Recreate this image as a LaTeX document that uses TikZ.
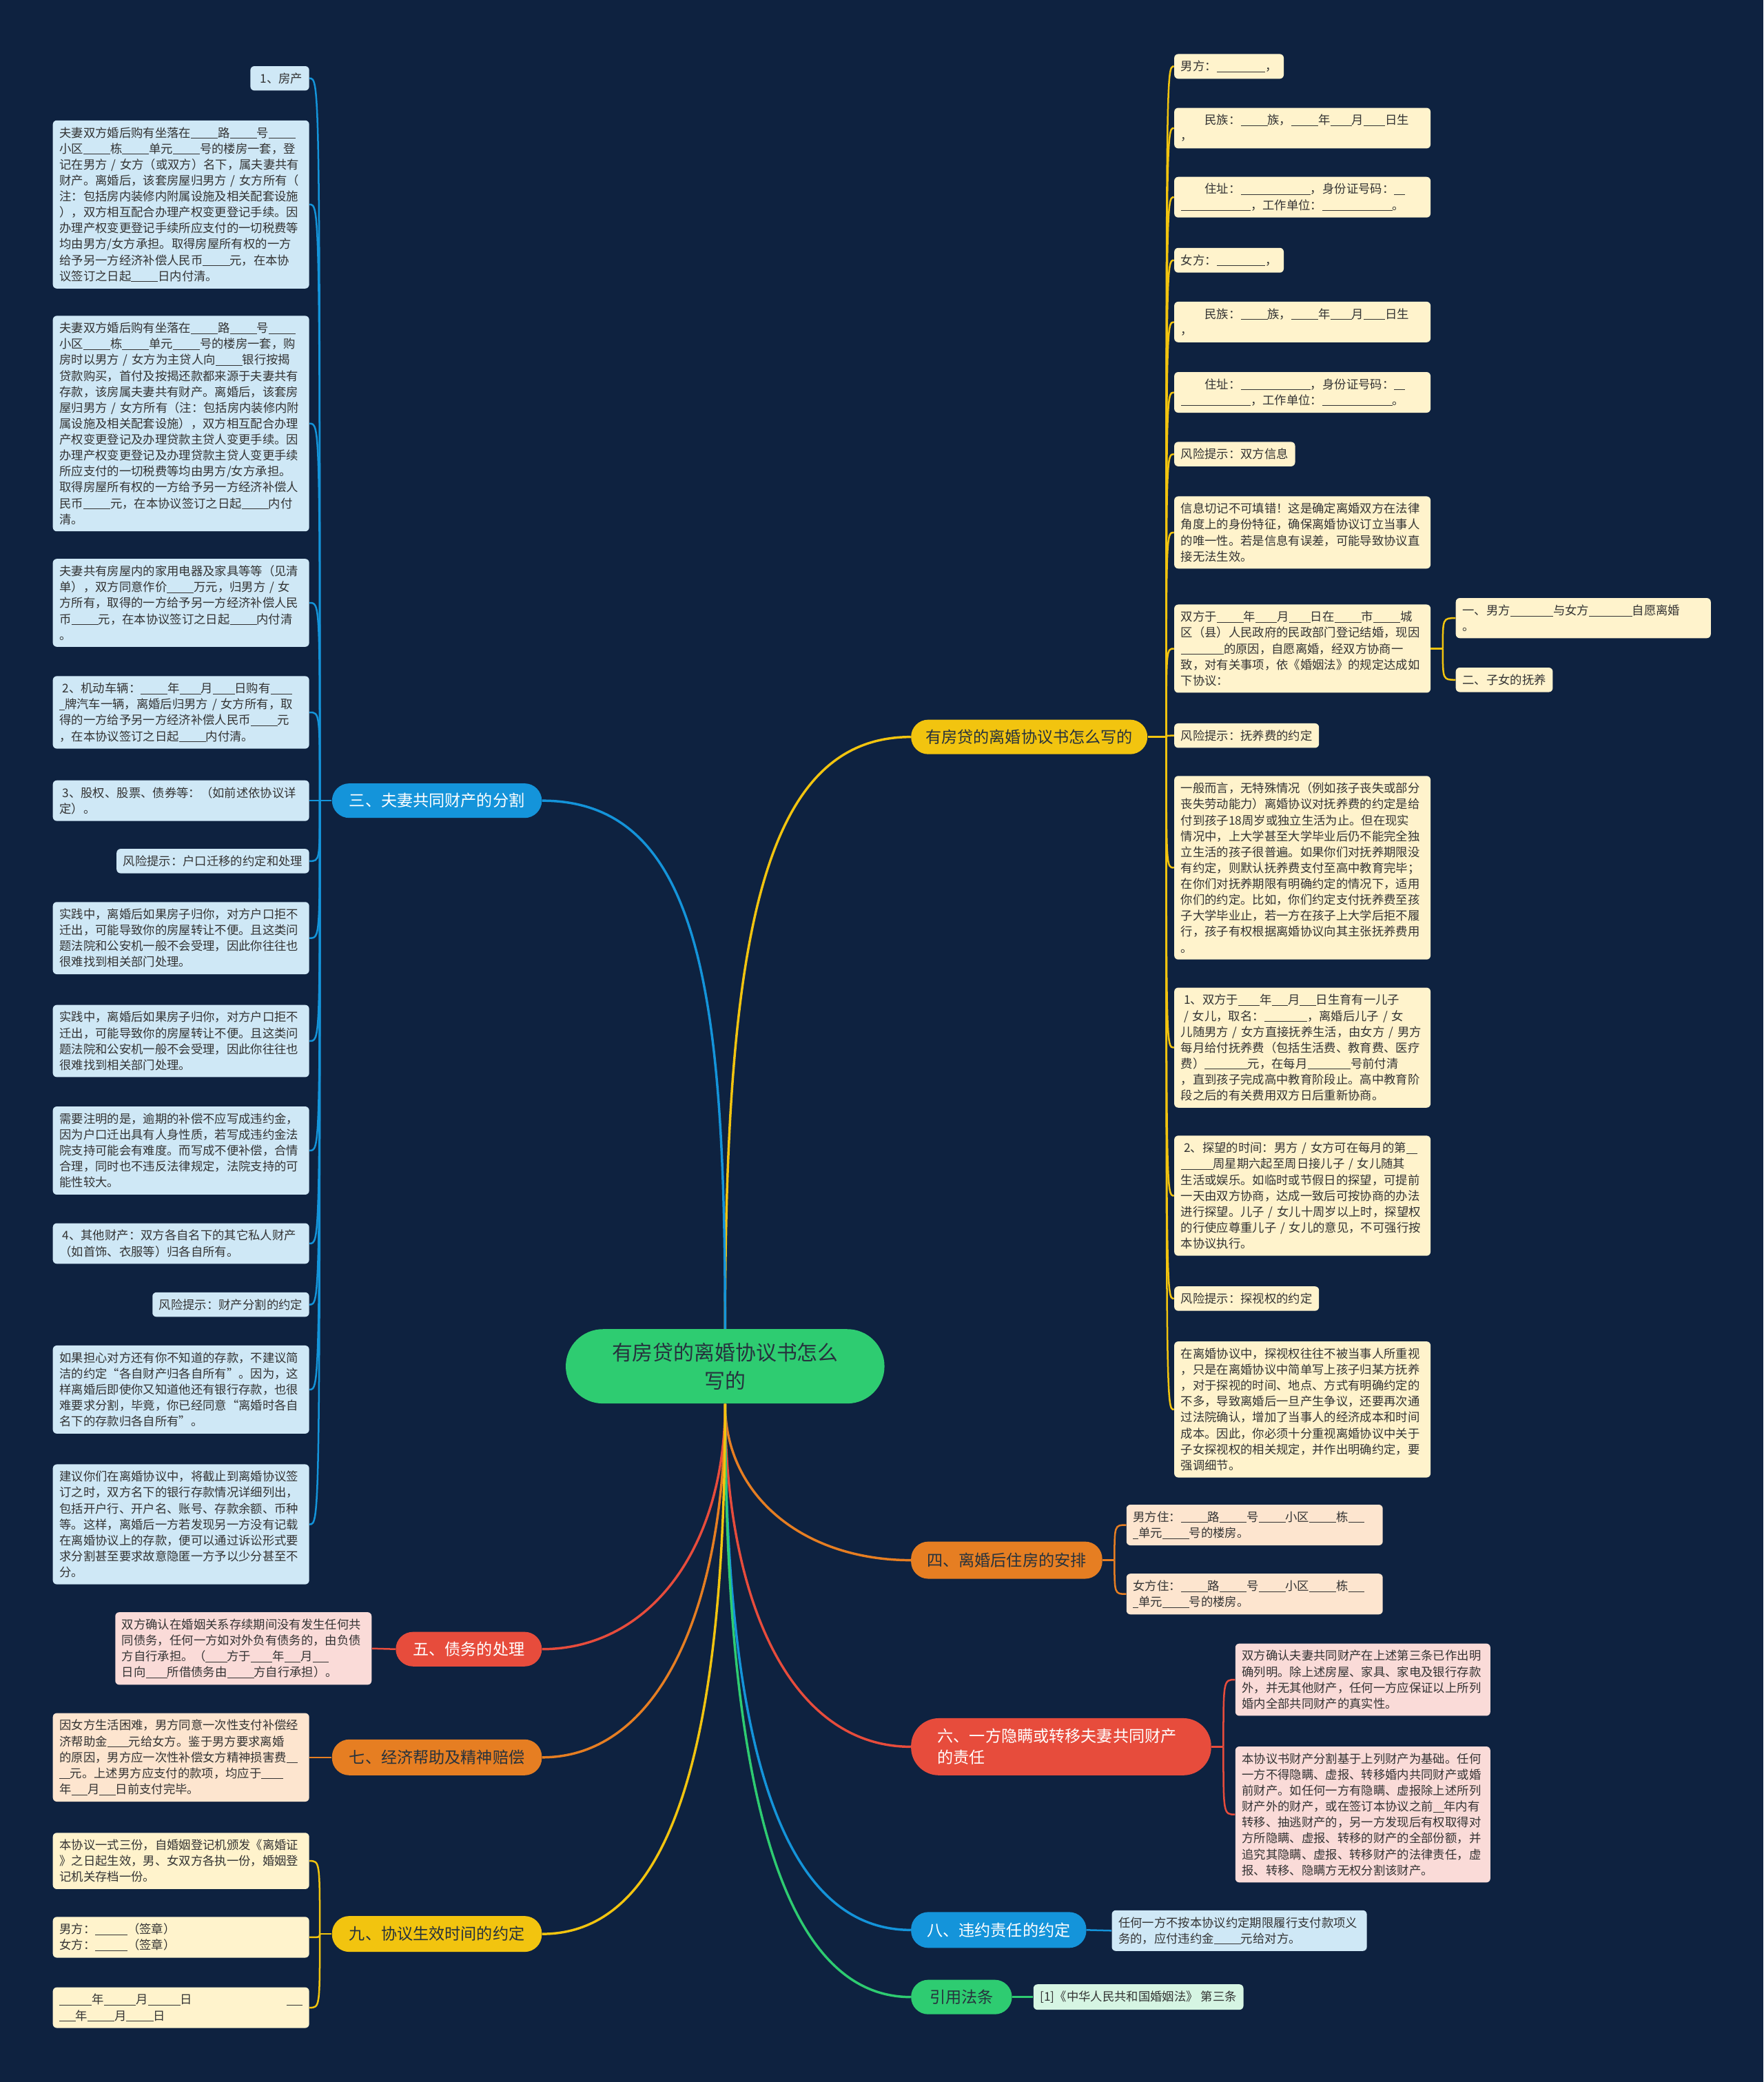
\documentclass[tikz,border=0pt]{standalone}
\usepackage{fontspec}
\newfontfamily\cjk{Noto Sans CJK SC}
\usetikzlibrary{positioning}

\definecolor{navy}{HTML}{0E2240}
\definecolor{cyel}{HTML}{F2C40F}
\definecolor{cblu}{HTML}{1494DA}
\definecolor{cora}{HTML}{E67E22}
\definecolor{cred}{HTML}{E74C3C}
\definecolor{cgrn}{HTML}{2ECC71}
\definecolor{fyel}{HTML}{FFF3CC}
\definecolor{fblu}{HTML}{CFE8F6}
\definecolor{fora}{HTML}{FDE5CF}
\definecolor{fred}{HTML}{FADBD8}
\definecolor{fgrn}{HTML}{D6F5E3}
\definecolor{ink}{HTML}{333333}
\definecolor{inkd}{HTML}{26323D}

% blank to fill in
\newcommand{\fillin}[1]{\rule[-1pt]{#1\dimexpr0.45em\relax}{0.45pt}}

\tikzset{
  leaf/.style={rounded corners=3pt, inner xsep=5pt, inner ysep=5pt, align=left, text=ink,
    font=\cjk\fontsize{9}{12}\selectfont},
  leafw/.style={leaf, text width=183pt},
  topic/.style={rounded corners=13pt, minimum height=26pt, inner xsep=10pt,
    font=\cjk\fontsize{12}{16}\selectfont},
  stem/.style={line width=1.8pt},
  lnk/.style={line width=1.3pt},
}

\begin{document}
\begin{tikzpicture}[x=1pt, y=-1pt]
  % background
  \fill[navy] (0,0) rectangle (1328,1568);

  % root
  \node[fill=cgrn, text=inkd, rounded corners=28pt, minimum width=240pt, minimum height=56pt,
    align=center, font=\cjk\fontsize{15.5}{21}\selectfont] (root) at (546,1029)
    {有房贷的离婚协议书怎么\\写的};

  % main branches
  \node[topic, fill=cyel, text=inkd, minimum width=178pt] (b1) at (775,555) {有房贷的离婚协议书怎么写的};
  \node[topic, fill=cblu, text=white, minimum width=158pt] (b3) at (329,603) {三、夫妻共同财产的分割};
  \node[topic, fill=cora, text=inkd, minimum width=144pt, minimum height=28pt] (b4) at (758,1175) {四、离婚后住房的安排};
  \node[topic, fill=cred, text=white, minimum width=110pt] (b5) at (353,1242) {五、债务的处理};
  \node[topic, fill=cred, text=white, rounded corners=21pt, minimum height=43pt, text width=186pt,
    inner xsep=20pt, align=left] (b6) at (799,1315.5) {六、一方隐瞒或转移夫妻共同财产\\的责任};
  \node[topic, fill=cora, text=inkd, minimum width=158pt, minimum height=27pt] (b7) at (329,1323.5) {七、经济帮助及精神赔偿};
  \node[topic, fill=cblu, text=white, minimum width=132pt, minimum height=27pt] (b8) at (752,1453.5) {八、违约责任的约定};
  \node[topic, fill=cyel, text=inkd, minimum width=158pt, minimum height=27pt] (b9) at (329,1456.5) {九、协议生效时间的约定};
  \node[topic, fill=cgrn, text=inkd, minimum width=76pt] (b10) at (724,1504) {引用法条};

  % root -> branches
  \draw[stem, cyel] (root.north) .. controls +(0,-300) and +(-110,0) .. (b1.west);
  \draw[stem, cblu] (root.north) .. controls +(0,-250) and +(120,0) .. (b3.east);
  \draw[stem, cora] (root.south) .. controls +(0,70) and +(-80,0) .. (b4.west);
  \draw[stem, cred] (root.south) .. controls +(0,150) and +(-90,0) .. (b6.west);
  \draw[stem, cblu] (root.south) .. controls +(0,250) and +(-100,0) .. (b8.west);
  \draw[stem, cgrn] (root.south) .. controls +(0,280) and +(-100,0) .. (b10.west);
  \draw[stem, cred] (root.south) .. controls +(0,110) and +(80,0) .. (b5.east);
  \draw[stem, cora] (root.south) .. controls +(0,150) and +(90,0) .. (b7.east);
  \draw[stem, cyel] (root.south) .. controls +(0,250) and +(100,0) .. (b9.east);

  % right: agreement text
  \node[leaf, fill=fyel, anchor=west] (r1) at (884,50) {男方：\fillin{9}，};
  \node[leafw, fill=fyel, anchor=west] (r2) at (884,96.5)
    {\hspace*{2em}民族：\fillin{5}族，\fillin{5}年\fillin{4}月\fillin{4}日生\\，};
  \node[leafw, fill=fyel, anchor=west] (r3) at (884,148.5)
    {\hspace*{2em}住址：\fillin{13}，身份证号码：\fillin{2}\\\fillin{13}，工作单位：\fillin{13}。};
  \node[leaf, fill=fyel, anchor=west] (r4) at (884,196) {女方：\fillin{9}，};
  \node[leafw, fill=fyel, anchor=west] (r5) at (884,242.5)
    {\hspace*{2em}民族：\fillin{5}族，\fillin{5}年\fillin{4}月\fillin{4}日生\\，};
  \node[leafw, fill=fyel, anchor=west] (r6) at (884,295.5)
    {\hspace*{2em}住址：\fillin{13}，身份证号码：\fillin{2}\\\fillin{13}，工作单位：\fillin{13}。};
  \node[leaf, fill=fyel, anchor=west] (r7) at (884,342) {风险提示：双方信息};
  \node[leafw, fill=fyel, anchor=west] (r8) at (884,401)
    {信息切记不可填错！这是确定离婚双方在法律\\角度上的身份特征，确保离婚协议订立当事人\\的唯一性。若是信息有误差，可能导致协议直\\接无法生效。};
  \node[leafw, fill=fyel, anchor=west] (r9) at (884,488.5)
    {双方于\fillin{5}年\fillin{4}月\fillin{4}日在\fillin{5}市\fillin{5}城\\区（县）人民政府的民政部门登记结婚，现因\\\fillin{8}的原因，自愿离婚，经双方协商一\\致，对有关事项，依《婚姻法》的规定达成如\\下协议：};
  \node[leafw, fill=fyel, anchor=west, text width=182pt] (r9a) at (1096,465.5)
    {一、男方\fillin{8}与女方\fillin{8}自愿离婚\\。};
  \node[leaf, fill=fyel, anchor=west] (r9b) at (1096,512) {二、子女的抚养};
  \node[leaf, fill=fyel, anchor=west] (r10) at (884,554) {风险提示：抚养费的约定};
  \node[leafw, fill=fyel, anchor=west] (r11) at (884,653.5)
    {一般而言，无特殊情况（例如孩子丧失或部分\\丧失劳动能力）离婚协议对抚养费的约定是给\\付到孩子18周岁或独立生活为止。但在现实\\情况中，上大学甚至大学毕业后仍不能完全独\\立生活的孩子很普遍。如果你们对抚养期限没\\有约定，则默认抚养费支付至高中教育完毕；\\在你们对抚养期限有明确约定的情况下，适用\\你们的约定。比如，你们约定支付抚养费至孩\\子大学毕业止，若一方在孩子上大学后拒不履\\行，孩子有权根据离婚协议向其主张抚养费用\\。};
  \node[leafw, fill=fyel, anchor=west] (r12) at (884,789)
    {\hspace{0.25em}1、双方于\fillin{4}年\fillin{3}月\fillin{3}日生育有一儿子\\\hspace{0.25em}/~女儿，取名：\fillin{8}，离婚后儿子~/~女\\儿随男方~/~女方直接抚养生活，由女方~/~男方\\每月给付抚养费（包括生活费、教育费、医疗\\费）\fillin{8}元，在每月\fillin{8}号前付清\\，直到孩子完成高中教育阶段止。高中教育阶\\段之后的有关费用双方日后重新协商。};
  \node[leafw, fill=fyel, anchor=west] (r13) at (884,900.5)
    {\hspace{0.25em}2、探望的时间：男方~/~女方可在每月的第\fillin{2}\\\fillin{6}周星期六起至周日接儿子~/~女儿随其\\生活或娱乐。如临时或节假日的探望，可提前\\一天由双方协商，达成一致后可按协商的办法\\进行探望。儿子~/~女儿十周岁以上时，探望权\\的行使应尊重儿子~/~女儿的意见，不可强行按\\本协议执行。};
  \node[leaf, fill=fyel, anchor=west] (r14) at (884,978) {风险提示：探视权的约定};
  \node[leafw, fill=fyel, anchor=west] (r15) at (884,1061.5)
    {在离婚协议中，探视权往往不被当事人所重视\\，只是在离婚协议中简单写上孩子归某方抚养\\，对于探视的时间、地点、方式有明确约定的\\不多，导致离婚后一旦产生争议，还要再次通\\过法院确认，增加了当事人的经济成本和时间\\成本。因此，你必须十分重视离婚协议中关于\\子女探视权的相关规定，并作出明确约定，要\\强调细节。};

  \coordinate[right=14pt of b1.east] (j1);
  \draw[lnk, cyel] (b1.east) -- (j1);
  \foreach \n in {r1,r2,r3,r4,r5,r6,r7,r8,r9,r10,r11,r12,r13,r14,r15}
    \draw[lnk, cyel] (j1) .. controls (j1 |- \n.west) .. (\n.west);
  \coordinate[right=9pt of r9.east] (j9r);
  \draw[lnk, cyel] (r9.east) -- (j9r);
  \foreach \n in {r9a,r9b}
    \draw[lnk, cyel] (j9r) .. controls (j9r |- \n.west) .. (\n.west);

  % left: property
  \node[leaf, fill=fblu, anchor=east] (l1) at (233,59) {\hspace{0.25em}1、房产};
  \node[leafw, fill=fblu, anchor=east] (l2) at (233,154)
    {夫妻双方婚后购有坐落在\fillin{5}路\fillin{5}号\fillin{5}\\小区\fillin{5}栋\fillin{5}单元\fillin{5}号的楼房一套，登\\记在男方~/~女方（或双方）名下，属夫妻共有\\财产。离婚后，该套房屋归男方~/~女方所有（\\注：包括房内装修内附属设施及相关配套设施\\），双方相互配合办理产权变更登记手续。因\\办理产权变更登记手续所应支付的一切税费等\\均由男方/女方承担。取得房屋所有权的一方\\给予另一方经济补偿人民币\fillin{5}元，在本协\\议签订之日起\fillin{5}日内付清。};
  \node[leafw, fill=fblu, anchor=east] (l3) at (233,319)
    {夫妻双方婚后购有坐落在\fillin{5}路\fillin{5}号\fillin{5}\\小区\fillin{5}栋\fillin{5}单元\fillin{5}号的楼房一套，购\\房时以男方~/~女方为主贷人向\fillin{5}银行按揭\\贷款购买，首付及按揭还款都来源于夫妻共有\\存款，该房属夫妻共有财产。离婚后，该套房\\屋归男方~/~女方所有（注：包括房内装修内附\\属设施及相关配套设施），双方相互配合办理\\产权变更登记及办理贷款主贷人变更手续。因\\办理产权变更登记及办理贷款主贷人变更手续\\所应支付的一切税费等均由男方/女方承担。\\取得房屋所有权的一方给予另一方经济补偿人\\民币\fillin{5}元，在本协议签订之日起\fillin{5}内付\\清。};
  \node[leafw, fill=fblu, anchor=east] (l4) at (233,454)
    {夫妻共有房屋内的家用电器及家具等等（见清\\单），双方同意作价\fillin{5}万元，归男方~/~女\\方所有，取得的一方给予另一方经济补偿人民\\币\fillin{5}元，在本协议签订之日起\fillin{5}内付清\\。};
  \node[leafw, fill=fblu, anchor=east] (l5) at (233,536.5)
    {\hspace{0.25em}2、机动车辆：\fillin{5}年\fillin{4}月\fillin{4}日购有\fillin{4}\\\fillin{1}牌汽车一辆，离婚后归男方~/~女方所有，取\\得的一方给予另一方经济补偿人民币\fillin{5}元\\，在本协议签订之日起\fillin{5}内付清。};
  \node[leafw, fill=fblu, anchor=east] (l6) at (233,603)
    {\hspace{0.25em}3、股权、股票、债券等：（如前述依协议详\\定）。};
  \node[leaf, fill=fblu, anchor=east] (l7) at (233,648.5) {风险提示：户口迁移的约定和处理};
  \node[leafw, fill=fblu, anchor=east] (l8) at (233,706.5)
    {实践中，离婚后如果房子归你，对方户口拒不\\迁出，可能导致你的房屋转让不便。且这类问\\题法院和公安机一般不会受理，因此你往往也\\很难找到相关部门处理。};
  \node[leafw, fill=fblu, anchor=east] (l9) at (233,784)
    {实践中，离婚后如果房子归你，对方户口拒不\\迁出，可能导致你的房屋转让不便。且这类问\\题法院和公安机一般不会受理，因此你往往也\\很难找到相关部门处理。};
  \node[leafw, fill=fblu, anchor=east] (l10) at (233,866.5)
    {需要注明的是，逾期的补偿不应写成违约金，\\因为户口迁出具有人身性质，若写成违约金法\\院支持可能会有难度。而写成不便补偿，合情\\合理，同时也不违反法律规定，法院支持的可\\能性较大。};
  \node[leafw, fill=fblu, anchor=east] (l11) at (233,936.5)
    {\hspace{0.25em}4、其他财产：双方各自名下的其它私人财产\\（如首饰、衣服等）归各自所有。};
  \node[leaf, fill=fblu, anchor=east] (l12) at (233,982.5) {风险提示：财产分割的约定};
  \node[leafw, fill=fblu, anchor=east] (l13) at (233,1046.5)
    {如果担心对方还有你不知道的存款，不建议简\\洁的约定“各自财产归各自所有”。因为，这\\样离婚后即使你又知道他还有银行存款，也很\\难要求分割，毕竟，你已经同意“离婚时各自\\名下的存款归各自所有”。};
  \node[leafw, fill=fblu, anchor=east] (l14) at (233,1148)
    {建议你们在离婚协议中，将截止到离婚协议签\\订之时，双方名下的银行存款情况详细列出，\\包括开户行、开户名、账号、存款余额、币种\\等。这样，离婚后一方若发现另一方没有记载\\在离婚协议上的存款，便可以通过诉讼形式要\\求分割甚至要求故意隐匿一方予以少分甚至不\\分。};

  \coordinate[left=9pt of b3.west] (j3);
  \draw[lnk, cblu] (b3.west) -- (j3);
  \foreach \n in {l1,l2,l3,l4,l5,l6,l7,l8,l9,l10,l11,l12,l13,l14}
    \draw[lnk, cblu] (j3) .. controls (j3 |- \n.east) .. (\n.east);

  % housing
  \node[leafw, fill=fora, anchor=west] (o1) at (848,1148.5)
    {男方住：\fillin{5}路\fillin{5}号\fillin{5}小区\fillin{5}栋\fillin{3}\\\fillin{1}单元\fillin{5}号的楼房。};
  \node[leafw, fill=fora, anchor=west] (o2) at (848,1200.5)
    {女方住：\fillin{5}路\fillin{5}号\fillin{5}小区\fillin{5}栋\fillin{3}\\\fillin{1}单元\fillin{5}号的楼房。};
  \coordinate[right=9pt of b4.east] (j4);
  \draw[lnk, cora] (b4.east) -- (j4);
  \foreach \n in {o1,o2}
    \draw[lnk, cora] (j4) .. controls (j4 |- \n.west) .. (\n.west);

  % hidden property
  \node[leafw, fill=fred, anchor=west, text width=182pt] (d1) at (930,1265)
    {双方确认夫妻共同财产在上述第三条已作出明\\确列明。除上述房屋、家具、家电及银行存款\\外，并无其他财产，任何一方应保证以上所列\\婚内全部共同财产的真实性。};
  \node[leafw, fill=fred, anchor=west, text width=182pt] (d2) at (930,1366.5)
    {本协议书财产分割基于上列财产为基础。任何\\一方不得隐瞒、虚报、转移婚内共同财产或婚\\前财产。如任何一方有隐瞒、虚报除上述所列\\财产外的财产，或在签订本协议之前\fillin{2}年内有\\转移、抽逃财产的，另一方发现后有权取得对\\方所隐瞒、虚报、转移的财产的全部份额，并\\追究其隐瞒、虚报、转移财产的法律责任，虚\\报、转移、隐瞒方无权分割该财产。};
  \coordinate[right=9pt of b6.east] (j6);
  \draw[lnk, cred] (b6.east) -- (j6);
  \foreach \n in {d1,d2}
    \draw[lnk, cred] (j6) .. controls (j6 |- \n.west) .. (\n.west);

  % single children
  \node[leafw, fill=fblu, anchor=west, text width=182pt] (v1) at (837,1454)
    {任何一方不按本协议约定期限履行支付款项义\\务的，应付违约金\fillin{5}元给对方。};
  \draw[lnk, cblu] (b8.east) -- (v1.west);
  \node[leaf, fill=fgrn, anchor=west] (g1) at (778,1504) {[1]《中华人民共和国婚姻法》 第三条};
  \draw[lnk, cgrn] (b10.east) -- (g1.west);
  \node[leafw, fill=fred, anchor=east] (f1) at (280,1241.5)
    {双方确认在婚姻关系存续期间没有发生任何共\\同债务，任何一方如对外负有债务的，由负债\\方自行承担。（\fillin{4}方于\fillin{4}年\fillin{3}月\fillin{3}\\日向\fillin{4}所借债务由\fillin{5}方自行承担）。};
  \draw[lnk, cred] (b5.west) -- (f1.east);
  \node[leafw, fill=fora, anchor=east] (e1) at (233,1323.5)
    {因女方生活困难，男方同意一次性支付补偿经\\济帮助金\fillin{4}元给女方。鉴于男方要求离婚\\的原因，男方应一次性补偿女方精神损害费\fillin{2}\\\fillin{2}元。上述男方应支付的款项，均应于\fillin{4}\\年\fillin{3}月\fillin{3}日前支付完毕。};
  \draw[lnk, cora] (b7.west) -- (e1.east);

  % effective date
  \node[leafw, fill=fyel, anchor=east] (n1) at (233,1401.5)
    {本协议一式三份，自婚姻登记机颁发《离婚证\\》之日起生效，男、女双方各执一份，婚姻登\\记机关存档一份。};
  \node[leafw, fill=fyel, anchor=east] (n2) at (233,1459)
    {男方：\fillin{6}（签章）\\女方：\fillin{6}（签章）};
  \node[leafw, fill=fyel, anchor=east] (n3) at (233,1512)
    {\fillin{6}年\fillin{6}月\fillin{6}日\hfill\fillin{3}\\\fillin{3}年\fillin{5}月\fillin{5}日};
  \coordinate[left=9pt of b9.west] (j9);
  \draw[lnk, cyel] (b9.west) -- (j9);
  \foreach \n in {n1,n2,n3}
    \draw[lnk, cyel] (j9) .. controls (j9 |- \n.east) .. (\n.east);
\end{tikzpicture}
\end{document}
